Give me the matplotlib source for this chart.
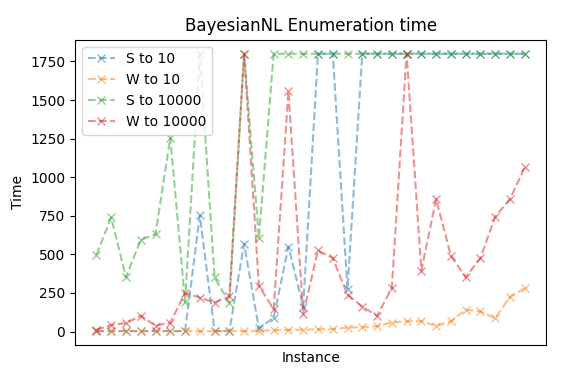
import numpy as np
import matplotlib
matplotlib.use('Agg')
import matplotlib.pyplot as plt

# run times per instance
instances = np.arange(30)

s_to_10 = [3, 3, 3, 3, 3, 3, 3, 752, 3, 3,
           568, 20, 90, 550, 162, 1800, 1800, 275, 1800, 1800,
           1800, 1800, 1800, 1800, 1800, 1800, 1800, 1800, 1800, 1800]

w_to_10 = [2, 2, 2, 2, 2, 2, 2, 2, 2, 3,
           3, 5, 8, 10, 12, 15, 15, 26, 28, 35,
           58, 67, 67, 36, 67, 142, 130, 86, 226, 281]

s_to_10000 = [497, 739, 352, 594, 631, 1257, 194, 1800, 350, 186,
              1800, 605, 1800, 1800, 1800, 1800, 1800, 1800, 1800, 1800,
              1800, 1800, 1800, 1800, 1800, 1800, 1800, 1800, 1800, 1800]

w_to_10000 = [11, 43, 54, 102, 37, 58, 249, 220, 188, 227,
              1800, 296, 145, 1556, 115, 525, 476, 238, 162, 102,
              281, 1800, 395, 858, 491, 352, 476, 745, 858, 1063]

series = [("S to 10", s_to_10), ("W to 10", w_to_10),
          ("S to 10000", s_to_10000), ("W to 10000", w_to_10000)]

fig = plt.figure(figsize=(5.86, 3.83), dpi=100)
fig.subplots_adjust(left=0.128, right=0.932, top=0.896, bottom=0.099)

for label, values in series:
    plt.plot(instances, values, '--x', alpha=0.5, label=label)

plt.title('BayesianNL Enumeration time')
plt.xlabel('Instance')
plt.ylabel('Time')
plt.xticks([])
plt.legend(loc='upper left')

plt.savefig('out.png', dpi=100)
